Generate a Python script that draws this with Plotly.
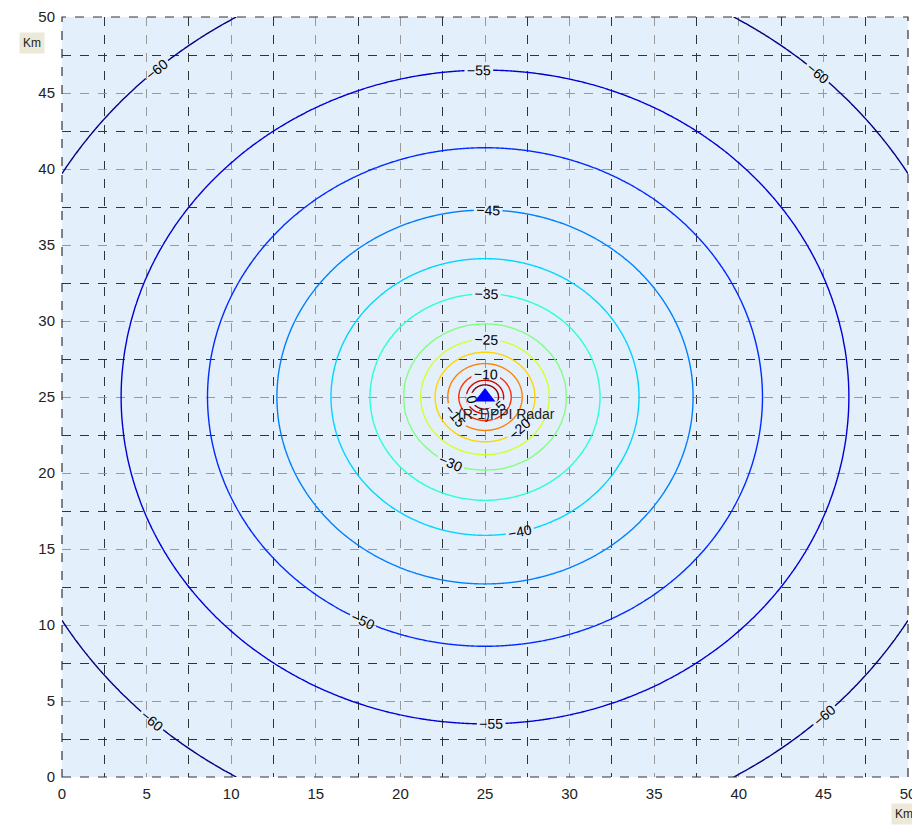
import numpy as np
import plotly.graph_objects as go

# ---- data ----
levels = [-60, -55, -50, -45, -40, -35, -30, -25, -20, -15, -10, -5, 0]
radii_km = [29.0, 21.5, 16.4, 12.3, 9.1, 6.8, 4.8, 3.8, 2.95, 2.2, 1.55, 1.1, 0.8]
radar_x = [25.0]
radar_y = [25.0]
radar_name = "(R-1)PPI Radar"
tick_vals = [0, 5, 10, 15, 20, 25, 30, 35, 40, 45, 50]

# ---- field on a grid built from the read radial profile ----
gx = np.unique(np.round(np.concatenate([np.linspace(0, 50, 251), np.linspace(22, 28, 151)]), 4))
gy = gx.copy()
X, Y = np.meshgrid(gx, gy)
R = np.hypot(X - radar_x[0], Y - radar_y[0])
R = np.maximum(R, 0.3)
lr = np.log10(np.array(radii_km[::-1]))
lv = np.array(levels[::-1], dtype=float)
LR = np.log10(R)
Z = np.interp(LR, lr, lv)
# linear extension of the profile beyond its read ends
s_out = (lv[0] - lv[1]) / (lr[0] - lr[1])
s_in = (lv[-1] - lv[-2]) / (lr[-1] - lr[-2])
Z = np.where(LR < lr[0], lv[0] + s_out * (LR - lr[0]), Z)
Z = np.where(LR > lr[-1], lv[-1] + s_in * (LR - lr[-1]), Z)
Z = np.round(Z, 3)

jet = [[0.0, '#000080'], [0.125, '#0000ff'], [0.375, '#00ffff'],
       [0.625, '#ffff00'], [0.875, '#ff0000'], [1.0, '#800000']]

FONT = 'Liberation Sans, Arial, sans-serif'

fig = go.Figure()
fig.add_trace(go.Contour(
    x=gx, y=gy, z=Z,
    zmin=-60, zmax=25, zauto=False,
    colorscale=jet, showscale=False,
    contours=dict(start=min(levels), end=max(levels), size=5,
                  coloring='lines', showlabels=True,
                  labelfont=dict(size=14, color='black', family=FONT)),
    line=dict(width=1.4),
    hoverinfo='skip',
))
fig.add_trace(go.Scatter(
    x=radar_x, y=radar_y, mode='markers',
    marker=dict(symbol='triangle-up', size=18, color='#0000ff'),
    hoverinfo='skip', showlegend=False,
))
fig.add_annotation(x=23.3, y=23.9, text=radar_name, showarrow=False,
                   xanchor='left', yanchor='middle',
                   font=dict(size=14, color='#222', family=FONT))

axis_common = dict(
    range=[0, 50], tickvals=tick_vals, showgrid=True, gridcolor='#999999',
    griddash='dash', gridwidth=1, zeroline=False, showline=False, ticks='',
    automargin=False, ticklabelstandoff=6,
    tickfont=dict(size=15, color='#222', family=FONT),
    minor=dict(tick0=2.5, dtick=5, showgrid=True, gridcolor='#333333',
               griddash='dash', gridwidth=1),
)
fig.update_xaxes(**axis_common)
fig.update_yaxes(**axis_common)

fig.add_shape(type='rect', xref='paper', yref='paper', x0=0, y0=0, x1=1, y1=1,
              line=dict(color='#333333', width=1.2, dash='dash'), layer='above')

fig.add_annotation(xref='paper', yref='paper', x=-0.035, y=0.966, text='Km',
                   showarrow=False, bgcolor='#ece9d8', xanchor='center', yanchor='middle',
                   font=dict(size=12, color='#222', family=FONT),
                   borderpad=3)
fig.add_annotation(xref='paper', yref='paper', x=1.011, y=-0.034, text='Km',
                   showarrow=False, bgcolor='#ece9d8', xanchor='right', yanchor='top',
                   font=dict(size=12, color='#222', family=FONT),
                   borderpad=3)

fig.update_layout(
    width=912, height=824,
    margin=dict(l=54, r=12, t=9, b=55),
    paper_bgcolor='white', plot_bgcolor='#e4effc',
    showlegend=False,
)
fig.write_html("out.html")
